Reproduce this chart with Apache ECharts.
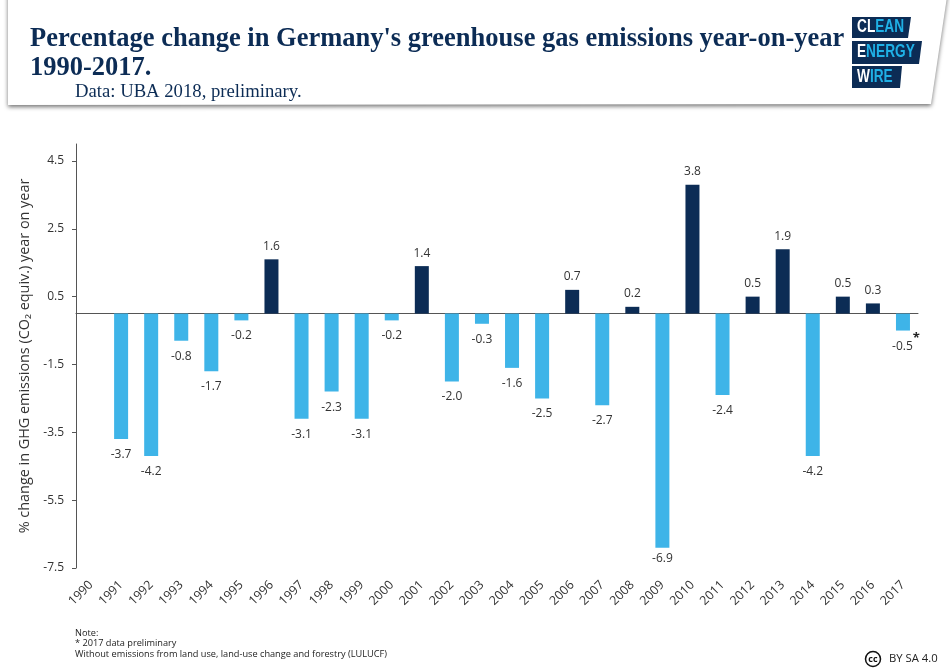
<!DOCTYPE html>
<html>
<head>
<meta charset="utf-8">
<style>
  html, body { margin: 0; padding: 0; background: #fff; }
  #main { width: 950px; height: 672px; }
</style>
<script src="https://cdn.jsdelivr.net/npm/echarts@6/dist/echarts.min.js"></script>
</head>
<body>
<div id="main"></div>
<script>
const years = ['1990', '1991', '1992', '1993', '1994', '1995', '1996', '1997', '1998', '1999',
  '2000', '2001', '2002', '2003', '2004', '2005', '2006', '2007', '2008', '2009',
  '2010', '2011', '2012', '2013', '2014', '2015', '2016', '2017'];
const changes = [null, -3.7, -4.2, -0.8, -1.7, -0.2, 1.6, -3.1, -2.3, -3.1,
  -0.2, 1.4, -2.0, -0.3, -1.6, -2.5, 0.7, -2.7, 0.2, -6.9,
  3.8, -2.4, 0.5, 1.9, -4.2, 0.5, 0.3, -0.5];
const yTicks = [-7.5, -5.5, -3.5, -1.5, 0.5, 2.5, 4.5];

const NAVY = '#0c2c55';
const SKY = '#3eb4e8';
const TEXT = '#333';
const SANS = '"Open Sans", sans-serif';
const SERIF = '"Liberation Serif", serif';

const chart = echarts.init(document.getElementById('main'), null, { renderer: 'canvas' });

// logo block: slanted right edge, white + cyan letters squeezed to look condensed
function logoBlock(y, h, wTop, wBottom, white, blue) {
  return [
    {
      type: 'polygon',
      shape: { points: [[852, y], [852 + wTop, y], [852 + wBottom, y + h], [852, y + h]] },
      style: { fill: NAVY }
    },
    {
      type: 'text',
      x: 857,
      y: y + h / 2,
      scaleX: 0.76,
      style: {
        text: '{w|' + white + '}{b|' + blue + '}',
        verticalAlign: 'middle',
        rich: {
          w: { fill: '#fff', font: 'bold 18px "Liberation Sans"' },
          b: { fill: '#1fb0e6', font: 'bold 18px "Liberation Sans"' }
        }
      }
    }
  ];
}

const option = {
  animation: false,
  backgroundColor: '#fff',
  grid: { left: 76, right: 32, top: 144, bottom: 104 },
  xAxis: [
    {
      // zero line
      type: 'category',
      data: years,
      axisLine: { onZero: true, lineStyle: { color: '#555', width: 1 } },
      axisTick: { show: false },
      axisLabel: { show: false }
    },
    {
      type: 'category',
      data: years,
      position: 'bottom',
      axisLine: { show: false, onZero: false },
      axisTick: { show: false },
      axisLabel: {
        interval: 0,
        rotate: 45,
        margin: 15,
        color: TEXT,
        fontFamily: SANS,
        fontSize: 12.5
      }
    }
  ],
  yAxis: {
    type: 'value',
    min: -7.5,
    max: 5,
    name: '% change in GHG emissions (CO\u2082 equiv.) year on year',
    nameLocation: 'middle',
    nameGap: 39,
    nameTextStyle: { color: TEXT, fontFamily: SANS, fontSize: 14.4 },
    splitLine: { show: false },
    axisLine: { show: true, onZero: false, lineStyle: { color: '#555', width: 1 } },
    axisTick: { show: true, length: 4, lineStyle: { color: '#555' }, customValues: yTicks },
    axisLabel: {
      color: TEXT,
      fontFamily: SANS,
      fontSize: 12,
      margin: 12,
      customValues: yTicks,
      formatter: v => v.toFixed(1)
    }
  },
  series: [{
    type: 'bar',
    barWidth: 14,
    data: changes.map((v, i) => {
      if (v === null) return null;
      const isLast = i === changes.length - 1;
      let labelOffset = [0, 0];
      if (isLast) labelOffset = [3, -8];
      if (v === -6.9) labelOffset = [0, -5]; // sits closer to the bar in the original
      return {
        value: v,
        itemStyle: { color: v < 0 ? SKY : NAVY },
        label: {
          show: true,
          position: v < 0 ? 'bottom' : 'top',
          distance: v < 0 ? 9.5 : 7,
          offset: labelOffset,
          color: TEXT,
          fontFamily: SANS,
          fontSize: 12,
          formatter: isLast ? '{n|-0.5}{star|*}' : v.toFixed(1),
          rich: {
            n: { color: TEXT, fontFamily: SANS, fontSize: 12, lineHeight: 30 },
            star: { color: '#222', fontFamily: SANS, fontWeight: 'bold', fontSize: 13, lineHeight: 8, verticalAlign: 'top' }
          }
        }
      };
    })
  }],
  graphic: [
    {
      // header sheet with drop shadow
      type: 'polygon',
      z: -1,
      shape: { points: [[8, -10], [948, -10], [931, 104], [8, 105]] },
      style: { fill: '#fff', shadowColor: 'rgba(0,0,0,0.55)', shadowBlur: 4, shadowOffsetY: 2 }
    },
    {
      type: 'text',
      x: 30,
      y: 39,
      style: {
        text: "Percentage change in Germany's greenhouse gas emissions year-on-year",
        fill: NAVY,
        font: 'bold 26.5px ' + SERIF,
        verticalAlign: 'middle'
      }
    },
    {
      type: 'text',
      x: 30,
      y: 68,
      style: { text: '1990-2017.', fill: NAVY, font: 'bold 26.5px ' + SERIF, verticalAlign: 'middle' }
    },
    {
      type: 'text',
      x: 75,
      y: 92,
      style: { text: 'Data: UBA 2018, preliminary.', fill: NAVY, font: '18.7px ' + SERIF, verticalAlign: 'middle' }
    },
    ...logoBlock(17, 21, 59, 56, 'CL', 'EAN'),
    ...logoBlock(41, 23, 70, 67, 'E', 'NERGY'),
    ...logoBlock(66, 22, 50, 48, 'W', 'IRE'),
    {
      type: 'text',
      x: 75,
      y: 628,
      style: {
        text: 'Note:\n* 2017 data preliminary\nWithout emissions from land use, land-use change and forestry (LULUCF)',
        fill: '#222',
        font: '9.2px ' + SANS,
        lineHeight: 10.5
      }
    },
    {
      type: 'circle',
      shape: { cx: 873, cy: 659, r: 7.5 },
      style: { fill: '#fff', stroke: '#111', lineWidth: 1.5 }
    },
    {
      type: 'text',
      x: 873,
      y: 659,
      style: { text: 'cc', fill: '#111', font: 'bold 9px ' + SANS, align: 'center', verticalAlign: 'middle' }
    },
    {
      type: 'text',
      x: 889,
      y: 659,
      style: { text: 'BY SA 4.0', fill: '#222', font: '11.3px ' + SANS, verticalAlign: 'middle' }
    }
  ]
};

chart.setOption(option);
</script>
</body>
</html>
